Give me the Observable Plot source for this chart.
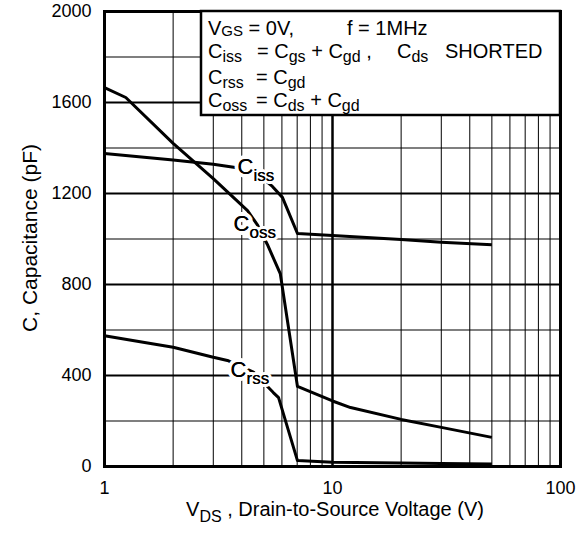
<!DOCTYPE html>
<html>
<head>
<meta charset="utf-8">
<script src="https://cdn.jsdelivr.net/npm/d3@7"></script>
<script src="https://cdn.jsdelivr.net/npm/@observablehq/plot@0.6"></script>
<style>
  html, body { margin: 0; padding: 0; background: white; }
  #chart { width: 578px; height: 533px; position: relative; }
  svg { font-family: "Liberation Sans", Arial, sans-serif; }
</style>
</head>
<body>
<div id="chart"></div>
<script>
// ---- data ----
const cissV = [1, 2, 3, 3.75, 4.5, 5.0, 5.45, 6.03, 7.02, 10, 20, 30, 50];
const cissC = [1376, 1347, 1329, 1314, 1290, 1262, 1231, 1183, 1024, 1015, 998, 986, 975];

const cossV = [1, 1.24, 2, 3, 4.24, 4.7, 5.18, 5.9, 7.02, 10, 12, 20, 30, 50];
const cossC = [1665, 1622, 1420, 1265, 1125, 1060, 976, 848, 352, 288, 259, 207, 172, 128];

const crssV = [1, 1.5, 2, 3, 3.46, 4.5, 5.5, 5.8, 7.02, 10, 20, 30, 50];
const crssC = [575, 545, 524, 480, 466, 415, 325, 303, 26, 19, 15, 13, 11];

const xTicks = [1, 10, 100];
const yTicks = [0, 400, 800, 1200, 1600, 2000];
const xMinorGrid = [2, 3, 4, 5, 6, 7, 8, 9, 20, 30, 40, 50, 60, 70, 80, 90];
const xMajorGrid = [10];
const yMinorGrid = [200, 600, 1000, 1400, 1800];
const yMajorGrid = [400, 800, 1200, 1600];

// curve labels: main letter + subscript, anchored at data position
const labelNames = ["iss", "oss", "rss"];
const labelV = [3.83, 3.68, 3.57];
const labelC = [1317, 1068, 424];

const yLabel = "C, Capacitance (pF)";
const xLabelMain = "V";
const xLabelSub = "DS";
const xLabelRest = " , Drain-to-Source Voltage (V)";

// ---- build tables ----
const toRows = (vs, cs) => vs.map((v, i) => ({v, c: cs[i]}));
const ciss = toRows(cissV, cissC);
const coss = toRows(cossV, cossC);
const crss = toRows(crssV, crssC);
const labels = labelNames.map((s, i) => ({sub: s, v: labelV[i], c: labelC[i]}));

const lineStyle = {x: "v", y: "c", stroke: "black", strokeWidth: 3, strokeLinejoin: "round", strokeLinecap: "butt"};

const chart = Plot.plot({
  width: 578,
  height: 533,
  marginLeft: 104,
  marginRight: 18,
  marginTop: 11,
  marginBottom: 67,
  style: {fontFamily: "Liberation Sans, Arial, sans-serif", fontSize: "18px", color: "black", background: "white"},
  x: {type: "log", domain: [1, 100], ticks: xTicks, tickFormat: d => String(d), tickSize: 0, tickPadding: 15, label: null},
  y: {domain: [0, 2000], ticks: yTicks, tickFormat: d => String(d), tickSize: 0, tickPadding: 13, label: null},
  marks: [
    Plot.ruleX(xMinorGrid, {stroke: "black", strokeWidth: 1}),
    Plot.ruleY(yMinorGrid, {stroke: "black", strokeWidth: 1.2}),
    Plot.ruleY(yMajorGrid, {stroke: "black", strokeWidth: 2}),
    Plot.ruleX(xMajorGrid, {stroke: "black", strokeWidth: 2.5}),
    Plot.line(ciss, lineStyle),
    Plot.line(coss, lineStyle),
    Plot.line(crss, lineStyle),
    Plot.text(labels, {x: "v", y: "c", text: () => "C", textAnchor: "start", fontSize: 22, fill: "black", stroke: "white", strokeWidth: 8}),
    Plot.text(labels, {x: "v", y: "c", text: "sub", textAnchor: "start", fontSize: 17, dx: 16, dy: 9, fill: "black", stroke: "white", strokeWidth: 6}),
    Plot.text(labels, {x: "v", y: "c", text: () => "C", textAnchor: "start", fontSize: 22, fill: "black"}),
    Plot.text(labels, {x: "v", y: "c", text: "sub", textAnchor: "start", fontSize: 17, dx: 16, dy: 9, fill: "black"}),
    Plot.frame({stroke: "black", strokeWidth: 3})
  ]
});

document.getElementById("chart").appendChild(chart);

// ---- annotations: legend box and axis labels ----
const svg = d3.select(chart);
const ff = "Liberation Sans, Arial, sans-serif";

// legend box
const lg = svg.append("g").attr("font-family", ff).attr("fill", "black").attr("text-anchor", "start");
lg.append("rect").attr("x", 201).attr("y", 11).attr("width", 359).attr("height", 104)
  .attr("fill", "white").attr("stroke", "black").attr("stroke-width", 2.5);

function seg(x, baseline, parts) {
  const t = lg.append("text").attr("x", x).attr("y", baseline).attr("font-size", 20)
    .attr("text-anchor", "start").style("white-space", "pre");
  let shift = 0;
  parts.forEach(p => {
    if (typeof p === "string") {
      t.append("tspan").attr("font-size", 20).attr("dy", -shift).text(p);
      shift = 0;
    } else {
      const d = p.dy ?? 4;
      t.append("tspan").attr("font-size", p.size ?? 16).attr("dy", d - shift).text(p.sub);
      shift = d;
    }
  });
}
seg(208, 35, ["V", {sub: "GS", size: 15, dy: 1}, " = 0V,"]);
seg(347, 35, ["f = 1MHz"]);
seg(208, 58, ["C", {sub: "iss"}]);
seg(257, 58, ["= C", {sub: "gs"}, " + C", {sub: "gd"}, " ,"]);
seg(397, 58, ["C", {sub: "ds"}]);
seg(445, 58, ["SHORTED"]);
seg(208, 84, ["C", {sub: "rss"}]);
seg(256, 84, ["= C", {sub: "gd"}]);
seg(208, 107, ["C", {sub: "oss"}]);
seg(256, 107, ["= C", {sub: "ds"}, " + C", {sub: "gd"}]);

// axis labels
const xl = svg.append("text").attr("x", 335).attr("y", 515.5).attr("text-anchor", "middle")
  .attr("font-family", ff).attr("font-size", 20).attr("fill", "black").style("white-space", "pre");
xl.append("tspan").text(xLabelMain);
xl.append("tspan").attr("font-size", 16).attr("dy", 6).text(xLabelSub);
xl.append("tspan").attr("dy", -6).text(xLabelRest);

svg.append("text").attr("transform", "translate(37,238) rotate(-90)").attr("text-anchor", "middle")
  .attr("font-family", ff).attr("font-size", 21).attr("fill", "black").text(yLabel);
</script>
</body>
</html>
